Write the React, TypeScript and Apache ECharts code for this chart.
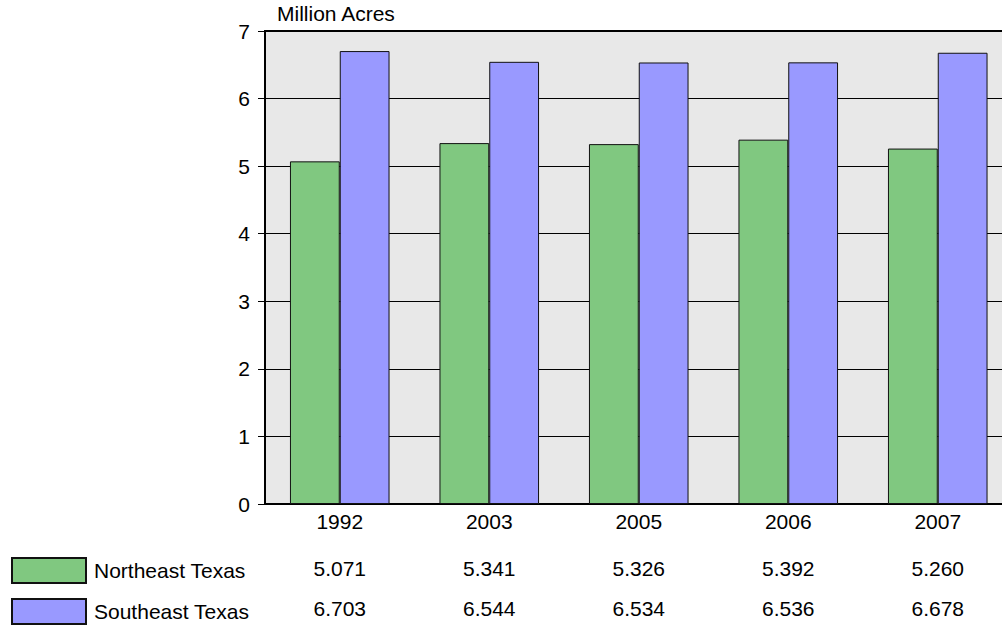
import React, { useEffect, useRef } from "react";
import * as echarts from "echarts";

// Land area by year, million acres
const years = ["1992", "2003", "2005", "2006", "2007"];
const northeastTexas = [5.071, 5.341, 5.326, 5.392, 5.26];
const southeastTexas = [6.703, 6.544, 6.534, 6.536, 6.678];
const seriesNames = ["Northeast Texas", "Southeast Texas"];
const unitLabel = "Million Acres";

const FONT = "'Liberation Sans', Arial, sans-serif";
const FS = 21;
const GREEN = "#80C880";
const BLUE = "#9999FF";

const fmt = (v: number) => v.toFixed(3);

export default function App() {
  const ref = useRef<HTMLDivElement>(null);

  useEffect(() => {
    if (!ref.current) return;
    const chart = echarts.init(ref.current, undefined, { renderer: "svg" });

    const tableAxis = (data: string[], offset: number) => ({
      type: "category" as const,
      gridIndex: 0,
      position: "bottom" as const,
      offset,
      data,
      axisLine: { show: false },
      axisTick: { show: false },
      splitLine: { show: false },
      axisLabel: { color: "#000", fontSize: FS, fontFamily: FONT, margin: 7 },
    });

    chart.setOption({
      animation: false,
      backgroundColor: "#fff",
      textStyle: { fontFamily: FONT },
      title: {
        text: unitLabel,
        left: 277,
        top: 3,
        padding: 0,
        textStyle: { fontSize: FS, fontWeight: "normal", color: "#000", fontFamily: FONT },
      },
      legend: {
        orient: "vertical",
        left: 11,
        top: 557,
        padding: 0,
        itemWidth: 74,
        itemHeight: 25,
        itemGap: 14,
        icon: "rect",
        textStyle: { fontSize: FS, color: "#000", fontFamily: FONT, padding: [0, 0, 0, 3] },
        data: seriesNames,
      },
      grid: {
        left: 265,
        top: 31,
        height: 473,
        width: 747.5,
        outerBoundsMode: "none",
        containLabel: false,
        show: true,
        backgroundColor: "#E8E8E8",
        borderColor: "#000",
        borderWidth: 2,
      },
      xAxis: [
        {
          type: "category",
          data: years,
          axisLine: { show: true, lineStyle: { color: "#000", width: 2 } },
          axisTick: { show: false },
          axisLabel: { color: "#000", fontSize: FS, fontFamily: FONT, margin: 7 },
        },
        tableAxis(northeastTexas.map(fmt), 47),
        tableAxis(southeastTexas.map(fmt), 87),
      ],
      yAxis: {
        type: "value",
        min: 0,
        max: 7,
        interval: 1,
        axisLine: { show: true, lineStyle: { color: "#000", width: 2 } },
        axisTick: { show: true, length: 7, lineStyle: { color: "#000", width: 1 } },
        axisLabel: { color: "#000", fontSize: FS, fontFamily: FONT, margin: 15 },
        splitLine: { show: true, lineStyle: { color: "#000", width: 1 } },
      },
      series: [
        {
          name: seriesNames[0],
          type: "bar",
          xAxisIndex: 0,
          data: northeastTexas,
          barGap: "0%",
          barCategoryGap: "33.4%",
          itemStyle: { color: GREEN, borderColor: "#111", borderWidth: 1 },
        },
        {
          name: seriesNames[1],
          type: "bar",
          xAxisIndex: 0,
          data: southeastTexas,
          barGap: "0%",
          barCategoryGap: "33.4%",
          itemStyle: { color: BLUE, borderColor: "#111", borderWidth: 1 },
        },
      ],
    });

    return () => chart.dispose();
  }, []);

  return <div ref={ref} style={{ width: 1002, height: 625, position: "absolute", left: 0, top: 0 }} />;
}
